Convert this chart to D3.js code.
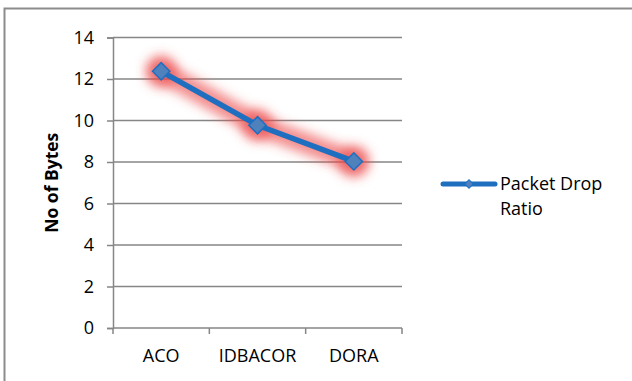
<!DOCTYPE html>
<html>
<head>
<meta charset="utf-8">
<script src="https://cdn.jsdelivr.net/npm/d3@7/dist/d3.min.js"></script>
<style>
  html, body { margin: 0; padding: 0; background: #fff; }
  svg { display: block; font-family: "Open Sans", sans-serif; }
</style>
</head>
<body>
<svg id="chart" width="632" height="381"></svg>
<script>
// Packet drop ratio per routing algorithm
const categories = ["ACO", "IDBACOR", "DORA"];
const values = [12.37, 9.77, 8.03];
const yTicks = [0, 2, 4, 6, 8, 10, 12, 14];
const seriesName = ["Packet Drop", "Ratio"];
const yTitle = "No of Bytes";

const svg = d3.select("#chart");
const plot = { left: 113, right: 402, top: 37.5, bottom: 328 };
const gridColor = "#868686";
const lineColor = "#1F6FC1";
const markerFill = "#4F81BD";
const fontSize = 18;

// outer frame
svg.append("rect")
  .attr("x", 4.5).attr("y", 8.5)
  .attr("width", 700).attr("height", 500)
  .attr("fill", "none").attr("stroke", "#8c8c8c").attr("stroke-width", 2);

const x = d3.scaleBand().domain(categories).range([plot.left, plot.right]).padding(0);
const y = d3.scaleLinear().domain([0, 14]).range([plot.bottom, plot.top]);

// horizontal gridlines
svg.append("g").selectAll("line").data(yTicks.filter(d => d > 0)).join("line")
  .attr("x1", plot.left).attr("x2", plot.right)
  .attr("y1", d => y(d)).attr("y2", d => y(d))
  .attr("stroke", gridColor).attr("stroke-width", 1.5);

// y axis
const yAxis = svg.append("g")
  .attr("transform", `translate(${plot.left},0)`)
  .call(d3.axisLeft(y).tickValues(yTicks).tickSize(6).tickPadding(13).tickFormat(d3.format("d")));
yAxis.select(".domain").attr("stroke", gridColor).attr("stroke-width", 1.5);
yAxis.selectAll(".tick line").attr("stroke", gridColor).attr("stroke-width", 1.5);
yAxis.selectAll(".tick text").attr("font-size", fontSize).attr("fill", "#000")
  .attr("font-family", "Open Sans, sans-serif");

// x axis with boundary ticks between categories
const xAxis = svg.append("g")
  .attr("transform", `translate(0,${plot.bottom})`);
xAxis.append("line")
  .attr("x1", plot.left).attr("x2", plot.right)
  .attr("stroke", gridColor).attr("stroke-width", 1.5);
const bounds = categories.map(c => x(c)).concat([x(categories[categories.length - 1]) + x.bandwidth()]);
xAxis.selectAll("line.tk").data(bounds).join("line").attr("class", "tk")
  .attr("x1", d => d).attr("x2", d => d).attr("y1", 0).attr("y2", 6)
  .attr("stroke", gridColor).attr("stroke-width", 1.5);
xAxis.selectAll("text").data(categories).join("text")
  .attr("x", d => x(d) + x.bandwidth() / 2).attr("y", 34)
  .attr("text-anchor", "middle").attr("font-size", fontSize).attr("fill", "#000")
  .text(d => d);

// y axis title
svg.append("text")
  .attr("transform", `translate(58,${(plot.top + plot.bottom) / 2}) rotate(-90)`)
  .attr("text-anchor", "middle").attr("font-size", 17.5).attr("font-weight", "bold")
  .text(yTitle);

// glow filter
const defs = svg.append("defs");
const f = defs.append("filter").attr("id", "glow")
  .attr("x", "-30%").attr("y", "-60%").attr("width", "160%").attr("height", "220%");
f.append("feGaussianBlur").attr("stdDeviation", 5.5);

const pts = categories.map((c, i) => [x(c) + x.bandwidth() / 2, y(values[i])]);
const line = d3.line();
const glowColor = "rgba(236,70,70,0.62)";

// red glow under the series
svg.append("path")
  .attr("d", line(pts))
  .attr("fill", "none").attr("stroke", glowColor)
  .attr("stroke-width", 21).attr("stroke-linejoin", "round").attr("stroke-linecap", "round")
  .attr("filter", "url(#glow)");
svg.append("g").selectAll("circle").data(pts).join("circle")
  .attr("cx", d => d[0]).attr("cy", d => d[1]).attr("r", 16)
  .attr("fill", glowColor).attr("filter", "url(#glow)");

// series line
svg.append("path")
  .attr("d", line(pts))
  .attr("fill", "none").attr("stroke", lineColor)
  .attr("stroke-width", 5.5).attr("stroke-linejoin", "round");

// diamond markers
const diamond = d3.symbol().type(d3.symbolSquare).size(150);
svg.append("g").selectAll("path").data(pts).join("path")
  .attr("d", diamond)
  .attr("transform", d => `translate(${d[0]},${d[1]}) rotate(45)`)
  .attr("fill", markerFill).attr("stroke", lineColor).attr("stroke-width", 1.5);

// legend
const lg = svg.append("g");
lg.append("line")
  .attr("x1", 443).attr("x2", 495).attr("y1", 184).attr("y2", 184)
  .attr("stroke", lineColor).attr("stroke-width", 5).attr("stroke-linecap", "round");
lg.append("path")
  .attr("d", d3.symbol().type(d3.symbolSquare).size(36))
  .attr("transform", "translate(469,184) rotate(45)")
  .attr("fill", markerFill).attr("stroke", lineColor).attr("stroke-width", 1);
lg.selectAll("text").data(seriesName).join("text")
  .attr("x", 500).attr("y", (d, i) => 190 + i * 25)
  .attr("font-size", fontSize).attr("fill", "#000")
  .text(d => d);
</script>
</body>
</html>
